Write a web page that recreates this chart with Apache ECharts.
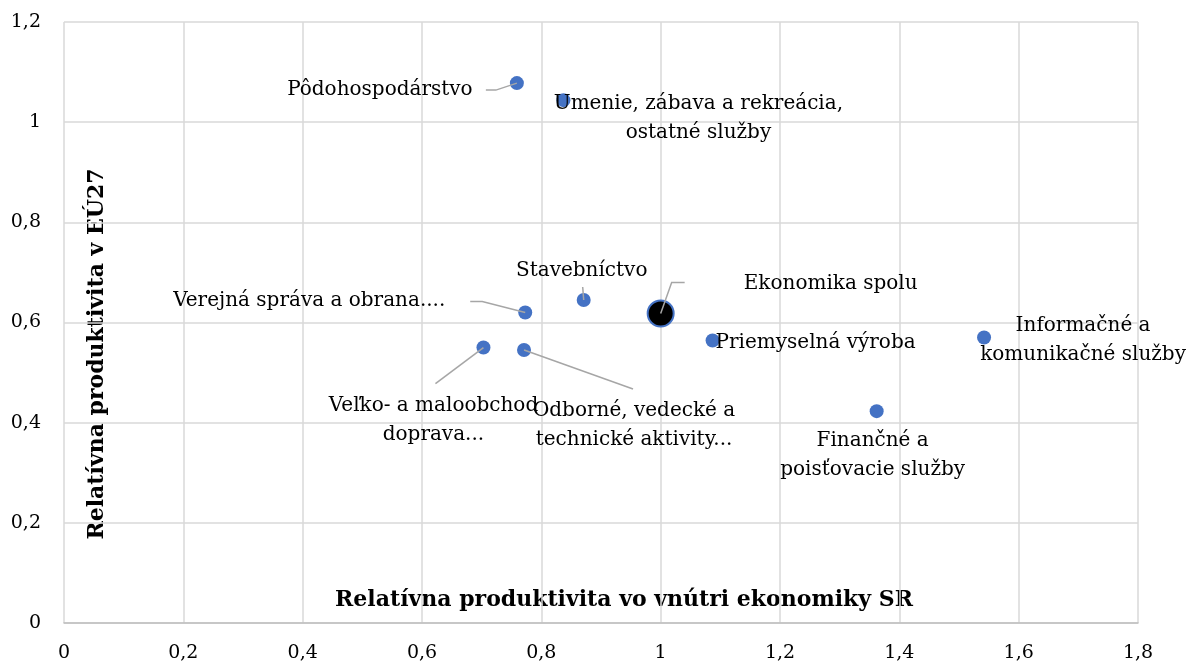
<!DOCTYPE html>
<html><head><meta charset="utf-8">
<script src="https://cdn.jsdelivr.net/npm/echarts@6/dist/echarts.min.js"></script>
<style>html,body{margin:0;padding:0;background:#fff}#c{width:1190px;height:666px}</style>
</head><body><div id="c"></div><script>
// Data
const sectorNames = [
  'Pôdohospodárstvo',
  'Umenie, zábava a rekreácia,\nostatné služby',
  'Stavebníctvo',
  'Verejná správa a obrana....',
  'Priemyselná výroba',
  'Veľko- a maloobchod\ndoprava...',
  'Odborné, vedecké a\ntechnické aktivity...',
  'Informačné a\nkomunikačné služby',
  'Finančné a\npoisťovacie služby'
];
const sectorX = [0.759, 0.837, 0.871, 0.773, 1.087, 0.703, 0.771, 1.542, 1.362];
const sectorY = [1.078, 1.044, 0.645, 0.620, 0.564, 0.550, 0.545, 0.570, 0.423];
const totalNames = ['Ekonomika spolu'];
const totalX = [1.0];
const totalY = [0.618];
const xAxisTitle = 'Relatívna produktivita vo vnútri ekonomiky SR';
const yAxisTitle = 'Relatívna produktivita v EÚ27';

// Label placement: pixel offsets of label center from point center
const sectorLabelOffsets = [[-137, 7], [135, 18], [-2, -29], [-216, -12], [103, 2], [-50, 73], [110, 75], [99, 3], [-4, 44]];
const totalLabelOffsets = [[170, -30]];
// Leader lines: pixel offsets (from point center) of polyline vertices, null = no leader
const sectorLeaderPaths = [[[-21, 7], [-31, 7]], null, [[-1, -13]], [[-43, -11], [-55, -11]], null, [[-48, 36]], [[109, 39]], null, null];
const totalLeaderPaths = [[[11, -31], [24, -31]]];

const FONT = 'DejaVu Serif';
const fmt = v => String(+v.toFixed(2)).replace('.', ',');

function makeData(names, xs, ys) {
  return names.map((n, i) => ({ name: n, value: [xs[i], ys[i]] }));
}
function layoutFn(offsets) {
  return function (p) {
    const o = offsets[p.dataIndex];
    return {
      x: p.rect.x + p.rect.width / 2 + o[0],
      y: p.rect.y + p.rect.height / 2 + o[1],
      align: 'center', verticalAlign: 'middle'
    };
  };
}
const labelStyle = {
  show: true, formatter: p => p.name, color: '#000', fontFamily: FONT,
  fontSize: 20, lineHeight: 29, align: 'center'
};

// leader-line data built from the point arrays
const allPaths = sectorLeaderPaths.concat(totalLeaderPaths);
const leaderData = [];
sectorX.forEach((x, i) => { if (sectorLeaderPaths[i]) leaderData.push([x, sectorY[i], i]); });
totalX.forEach((x, i) => { if (totalLeaderPaths[i]) leaderData.push([x, totalY[i], sectorX.length + i]); });

const chart = echarts.init(document.getElementById('c'));
chart.setOption({
  animation: false,
  backgroundColor: '#fff',
  grid: { left: 64, right: 52, top: 22, bottom: 43, containLabel: false },
  xAxis: {
    type: 'value', min: 0, max: 1.8, interval: 0.2,
    axisLine: { show: true, lineStyle: { color: '#bfbfbf', width: 1.5 } },
    axisTick: { show: false },
    splitLine: { show: true, lineStyle: { color: '#d9d9d9', width: 1.5 } },
    axisLabel: { formatter: fmt, color: '#000', fontFamily: FONT, fontSize: 19, margin: 21 }
  },
  yAxis: {
    type: 'value', min: 0, max: 1.2, interval: 0.2,
    axisLine: { show: false },
    axisTick: { show: false },
    splitLine: { show: true, lineStyle: { color: '#d9d9d9', width: 1.5 } },
    axisLabel: { formatter: fmt, color: '#000', fontFamily: FONT, fontSize: 19, margin: 23 }
  },
  graphic: [
    { type: 'text', x: 624, y: 600, style: { text: xAxisTitle, font: 'bold 22px "' + FONT + '"', fill: '#000', align: 'center', verticalAlign: 'middle' } },
    { type: 'text', x: 97, y: 354, rotation: Math.PI / 2, style: { text: yAxisTitle, font: 'bold 22px "' + FONT + '"', fill: '#000', align: 'center', verticalAlign: 'middle' } }
  ],
  series: [
    {
      type: 'scatter', name: 'Sektory', symbolSize: 14,
      itemStyle: { color: '#4472C4', opacity: 1 },
      data: makeData(sectorNames, sectorX, sectorY),
      label: labelStyle,
      labelLayout: layoutFn(sectorLabelOffsets), z: 3
    },
    {
      type: 'scatter', name: 'Ekonomika spolu', symbolSize: 26,
      itemStyle: { color: '#000', borderColor: '#4472C4', borderWidth: 2, opacity: 1 },
      data: makeData(totalNames, totalX, totalY),
      label: labelStyle,
      labelLayout: layoutFn(totalLabelOffsets), z: 4
    },
    {
      type: 'custom', name: 'leaders', z: 5, silent: true,
      data: leaderData,
      renderItem: function (params, api) {
        const c = api.coord([api.value(0), api.value(1)]);
        const path = allPaths[api.value(2)];
        const pts = [c].concat(path.map(o => [c[0] + o[0], c[1] + o[1]]));
        return { type: 'polyline', shape: { points: pts }, style: { stroke: '#a6a6a6', lineWidth: 1.5, fill: null } };
      }
    }
  ]
});
</script></body></html>
